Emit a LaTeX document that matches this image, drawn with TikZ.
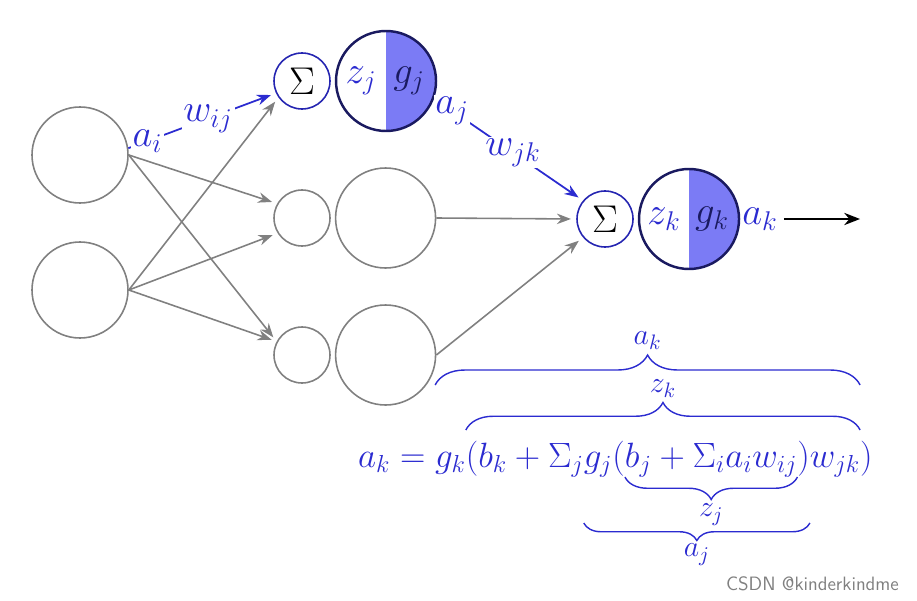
\RequirePackage{fix-cm}
\documentclass[tikz,border=0pt]{standalone}
\usepackage{amsmath}
\usepackage{xcolor}
\usetikzlibrary{positioning, arrows.meta, decorations.pathreplacing}
\definecolor{deep-blue}{HTML}{2B2BD0}
\definecolor{half-blue}{HTML}{7B7BF5}
\definecolor{navy}{HTML}{1A1A60}
\definecolor{mid-gray}{HTML}{808080}

\begin{document}
\begin{tikzpicture}[every node/.style={font=\fontsize{22}{26}\selectfont},
    unitnode/.style={circle, draw=mid-gray, line width=0.9pt, fill=white},
    sumnode/.style={circle, draw=deep-blue!85!black, line width=0.9pt,
      fill=white, minimum size=1.12cm, inner sep=0pt},
    actnode/.style={circle, draw=navy, line width=1.4pt, fill=white,
      minimum size=2cm, path picture={\fill[half-blue]
      (path picture bounding box.south) rectangle
      (path picture bounding box.north east);}},
    grayarrow/.style={-{Stealth[length=8pt, width=6pt]}, draw=mid-gray,
      line width=0.9pt, shorten >=3pt},
    bluearrow/.style={-{Stealth[length=8pt, width=6pt]}, draw=deep-blue,
      fill=deep-blue, line width=1pt, shorten >=3pt},
    wlabel/.style={text=deep-blue, fill=white, inner sep=1pt},
    fpart/.style={text=deep-blue, font=\fontsize{20}{24}\selectfont,
      inner sep=0pt, outer sep=0pt},
    bracelabel/.style={text=deep-blue, font=\fontsize{17}{20}\selectfont,
      inner sep=0pt},
    bracket/.style={decorate, draw=deep-blue, line width=0.8pt}]
    \useasboundingbox (0, 0) rectangle (18.34, 12);

    % input layer
    \node[unitnode, minimum size=1.92cm] (in1) at (1.6, 8.9) {};
    \node[unitnode, minimum size=1.92cm] (in2) at (1.6, 6.2) {};

    % hidden layer
    \node[sumnode] (s1) at (6.04, 10.38) {$\Sigma$};
    \node[actnode, right=0.08cm of s1] (g1) {};
    \node[text=deep-blue] (zj) at ([xshift=-0.5cm]g1.center) {$z_j$};
    \node[text=navy] (gj) at ([xshift=0.46cm]g1.center) {$g_j$};

    \node[unitnode, minimum size=1.12cm] (s2) at (6.04, 7.64) {};
    \node[unitnode, minimum size=2cm, right=0.08cm of s2] (g2) {};
    \node[unitnode, minimum size=1.12cm] (s3) at (6.04, 4.9) {};
    \node[unitnode, minimum size=2cm, right=0.08cm of s3] (g3) {};

    % output unit
    \node[sumnode] (sk) at (12.1, 7.62) {$\Sigma$};
    \node[actnode, right=0.08cm of sk] (gk) {};
    \node[text=deep-blue] (zk) at ([xshift=-0.5cm]gk.center) {$z_k$};
    \node[text=navy] (gkl) at ([xshift=0.46cm]gk.center) {$g_k$};
    \node[text=deep-blue] (ak) at (15.2, 7.62) {$a_k$};
    \coordinate (out) at (17.2, 7.62);
    \draw[-{Stealth[length=9pt, width=7pt]}, line width=1pt] (ak) -- (out);

    % weights into the hidden layer
    \draw[bluearrow] (in1.8) -- node[wlabel, pos=0.13] {$a_i$}
      node[wlabel, pos=0.54] {$w_{ij}$} (s1.205);
    \draw[grayarrow] (in2.east) -- (s1.215);
    \draw[grayarrow] (in1.east) -- (s2.150);
    \draw[grayarrow] (in2.east) -- (s2.212);
    \draw[grayarrow] (in1.east) -- (s3.152);
    \draw[grayarrow] (in2.east) -- (s3.152);

    % weights into the output unit
    \draw[bluearrow] (g1.340) -- node[wlabel, pos=0.12] {$a_j$}
      node[wlabel, pos=0.53] {$w_{jk}$} (sk.140);
    \draw[grayarrow] (g2.east) -- (sk.180);
    \draw[grayarrow] (g3.east) -- (sk.220);

    % the formula, piece by piece
    \node[fpart, anchor=base west] (p1) at (7.16, 2.66) {$a_k ={}$};
    \node[fpart, base right=0pt of p1] (p2) {$g_k$};
    \node[fpart, base right=0pt of p2] (p3) {$(b_k + \Sigma_j$};
    \node[fpart, base right=0pt of p3] (p4) {$g_j($};
    \node[fpart, base right=0pt of p4] (p5) {$b_j + \Sigma_i a_i w_{ij}$};
    \node[fpart, base right=0pt of p5] (p6) {$)$};
    \node[fpart, base right=0pt of p6] (p7) {$w_{jk}$};
    \node[fpart, base right=0pt of p7] (p8) {$)$};

    \draw[bracket, decoration={brace, amplitude=0.6cm}]
      ([yshift=1.64cm]p2.base west) -- ([yshift=1.64cm]p7.base east)
      node[bracelabel, midway, above=0.7cm] (akl) {$a_k$};
    \draw[bracket, decoration={brace, amplitude=0.55cm}]
      ([yshift=0.74cm]p3.base west) -- ([yshift=0.74cm]p7.base east)
      node[bracelabel, midway, above=0.64cm] (zkl) {$z_k$};
    \draw[bracket, decoration={brace, mirror, amplitude=0.45cm}]
      ([yshift=-0.2cm]p5.base west) -- ([yshift=-0.2cm]p5.base east)
      node[bracelabel, midway, below=0.52cm] (zjl) {$z_j$};
    \draw[bracket, decoration={brace, mirror, amplitude=0.35cm}]
      ([yshift=-1.12cm]p4.base west) -- ([yshift=-1.12cm]p6.base east)
      node[bracelabel, midway, below=0.4cm] (ajl) {$a_j$};

    \node[text=mid-gray, font=\sffamily\fontsize{11}{13}\selectfont,
      anchor=east] (credit) at (18.1, 0.32) {CSDN @kinderkindme};
  \end{tikzpicture}
\end{document}
